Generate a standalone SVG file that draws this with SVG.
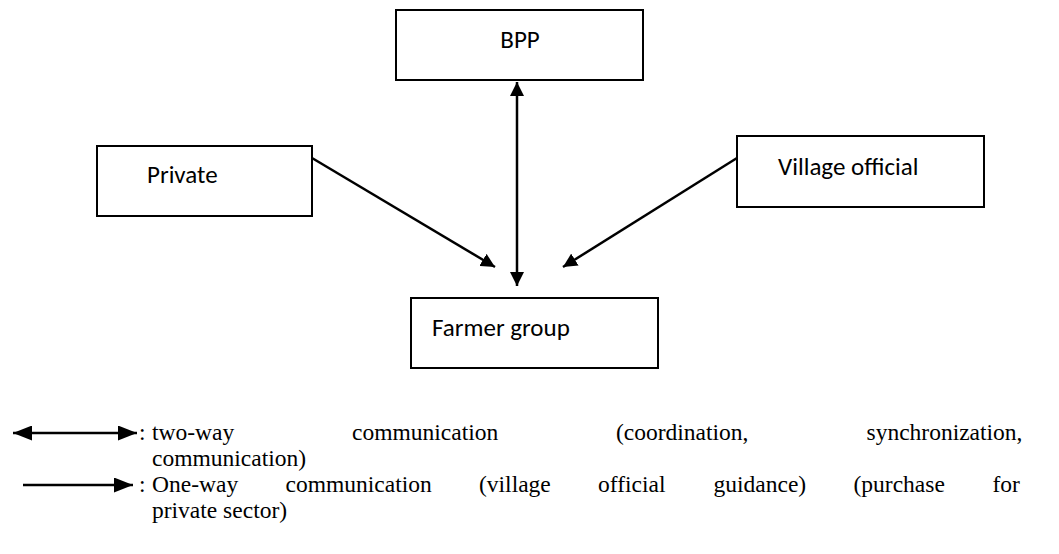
<svg xmlns="http://www.w3.org/2000/svg" width="1059" height="554" viewBox="0 0 1059 554">
  <style>
    .box { fill: #ffffff; stroke: #000000; stroke-width: 2; }
    .lbl { font-family: Carlito, Lato, "Open Sans", sans-serif; font-size: 25px; fill: #000000; }
    .leg { font-family: "Liberation Serif", "Times New Roman", serif; font-size: 23.5px; fill: #000000; }
    .conn { stroke: #000000; stroke-width: 2.5; fill: none; }
  </style>
  <defs>
    <marker id="ah" viewBox="0 0 14 14" refX="14" refY="7" markerWidth="14" markerHeight="14" markerUnits="userSpaceOnUse" orient="auto-start-reverse">
      <path d="M0,0 L14,7 L0,14 Z" fill="#000000"/>
    </marker>
    <marker id="lh" viewBox="0 0 19 15" refX="19" refY="7.5" markerWidth="19" markerHeight="15" markerUnits="userSpaceOnUse" orient="auto-start-reverse">
      <path d="M0,0 L19,7.5 L0,15 Z" fill="#000000"/>
    </marker>
  </defs>

  <g id="node-bpp">
    <rect class="box" x="396" y="10" width="247" height="70"/>
    <text class="lbl" x="520" y="48" text-anchor="middle">BPP</text>
  </g>
  <g id="node-private">
    <rect class="box" x="97" y="146" width="215" height="70"/>
    <text class="lbl" x="147" y="183">Private</text>
  </g>
  <g id="node-village">
    <rect class="box" x="737" y="136" width="247" height="71"/>
    <text class="lbl" x="778" y="175">Village official</text>
  </g>
  <g id="node-farmer">
    <rect class="box" x="411" y="298" width="247" height="70"/>
    <text class="lbl" x="432" y="336">Farmer group</text>
  </g>

  <g id="connectors">
    <line class="conn" x1="517" y1="82" x2="517" y2="286" marker-start="url(#ah)" marker-end="url(#ah)"/>
    <line class="conn" x1="312" y1="158" x2="495" y2="267" marker-end="url(#ah)"/>
    <line class="conn" x1="737" y1="158" x2="563" y2="267" marker-end="url(#ah)"/>
  </g>

  <g id="legend">
    <line class="conn" x1="13" y1="433" x2="137" y2="433" marker-start="url(#lh)" marker-end="url(#lh)"/>
    <text class="leg" y="440"><tspan x="139">:</tspan><tspan x="152">two-way</tspan><tspan x="352">communication</tspan><tspan x="616">(coordination,</tspan><tspan x="866.5">synchronization,</tspan><tspan x="152" y="466">communication)</tspan></text>

    <line class="conn" x1="23" y1="485" x2="133" y2="485" marker-end="url(#lh)"/>
    <text class="leg" y="492"><tspan x="139">:</tspan><tspan x="152">One-way</tspan><tspan x="285.5">communication</tspan><tspan x="479">(village</tspan><tspan x="598">official</tspan><tspan x="713.5">guidance)</tspan><tspan x="853.5">(purchase</tspan><tspan x="992.5">for</tspan><tspan x="152" y="518">private sector)</tspan></text>
  </g>
</svg>
